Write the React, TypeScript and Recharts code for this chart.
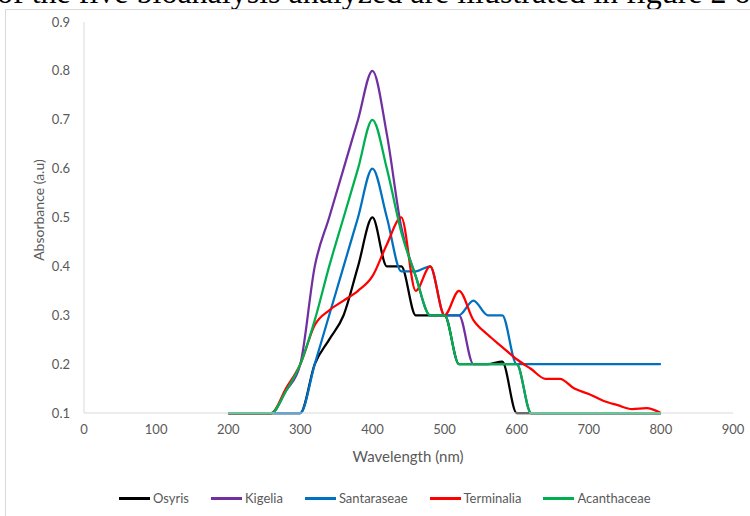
import React from 'react'
import { LineChart, Line, XAxis, YAxis } from 'recharts'

const WAVELENGTHS = [
  200, 220, 240, 260, 280, 300, 320, 340, 360, 380, 400, 420, 440, 460, 480, 500,
  520, 540, 560, 580, 600, 620, 640, 660, 680, 700, 720, 740, 760, 780, 800,
]

const OSYRIS = [
  0.1, 0.1, 0.1, 0.1, 0.1, 0.1, 0.2, 0.25, 0.3, 0.4, 0.5, 0.4, 0.4, 0.3, 0.3, 0.3,
  0.2, 0.2, 0.2, 0.205, 0.1, 0.1, 0.1, 0.1, 0.1, 0.1, 0.1, 0.1, 0.1, 0.1, 0.1,
]
const KIGELIA = [
  0.1, 0.1, 0.1, 0.1, 0.145, 0.2, 0.4, 0.5, 0.6, 0.7, 0.8, 0.67, 0.48, 0.38, 0.3, 0.3,
  0.3, 0.2, 0.2, 0.2, 0.2, 0.1, 0.1, 0.1, 0.1, 0.1, 0.1, 0.1, 0.1, 0.1, 0.1,
]
const SANTARASEAE = [
  0.1, 0.1, 0.1, 0.1, 0.1, 0.1, 0.2, 0.3, 0.4, 0.5, 0.6, 0.5, 0.39, 0.39, 0.4, 0.3,
  0.3, 0.33, 0.3, 0.3, 0.2, 0.2, 0.2, 0.2, 0.2, 0.2, 0.2, 0.2, 0.2, 0.2, 0.2,
]
const TERMINALIA = [
  0.1, 0.1, 0.1, 0.1, 0.15, 0.2, 0.28, 0.31, 0.33, 0.35, 0.38, 0.445, 0.5, 0.35, 0.4, 0.3,
  0.35, 0.29, 0.26, 0.235, 0.21, 0.19, 0.17, 0.17, 0.15, 0.139, 0.125, 0.116, 0.108, 0.11, 0.1,
]
const ACANTHACEAE = [
  0.1, 0.1, 0.1, 0.1, 0.145, 0.2, 0.29, 0.4, 0.5, 0.6, 0.7, 0.6, 0.47, 0.38, 0.3, 0.3,
  0.2, 0.2, 0.2, 0.2, 0.2, 0.1, 0.1, 0.1, 0.1, 0.1, 0.1, 0.1, 0.1, 0.1, 0.1,
]

const X_TICKS = [0, 100, 200, 300, 400, 500, 600, 700, 800, 900]
const Y_TICKS = [0.1, 0.2, 0.3, 0.4, 0.5, 0.6, 0.7, 0.8, 0.9]

const SERIES = [
  { name: 'Osyris', values: OSYRIS, color: '#000000' },
  { name: 'Kigelia', values: KIGELIA, color: '#7030a0' },
  { name: 'Santaraseae', values: SANTARASEAE, color: '#0070c0' },
  { name: 'Terminalia', values: TERMINALIA, color: '#ff0000' },
  { name: 'Acanthaceae', values: ACANTHACEAE, color: '#00b050' },
]

const data = WAVELENGTHS.map((w, i) => {
  const row: Record<string, number> = { w }
  SERIES.forEach(s => { row[s.name] = s.values[i] })
  return row
})

const FONT = 'Lato, "Open Sans", sans-serif'
const TEXT = '#595959'
const AXIS = '#d9d9d9'

export default function App() {
  return (
    <div style={{ position: 'absolute', left: 0, top: 0, width: 750, height: 516, overflow: 'hidden', background: '#fff' }}>
      {/* the page text above the figure is cut by the screenshot */}
      <div style={{
        position: 'absolute', left: -3, top: -24, whiteSpace: 'nowrap',
        fontFamily: '"Liberation Serif", "Times New Roman", serif', fontSize: 32, lineHeight: '32px', color: '#000',
      }}>
        of the five bioanalysis analyzed are illustrated in figure 2 o
      </div>
      <div style={{ position: 'absolute', left: 5, top: 9, width: 800, height: 600, border: `1px solid ${AXIS}`, background: '#fff' }} />

      <div style={{ position: 'absolute', left: 0, top: 0 }}>
        <LineChart width={750} height={516} data={data} margin={{ top: 22, right: 17, left: 0, bottom: 0 }}>
          <XAxis
            dataKey="w"
            type="number"
            domain={[0, 900]}
            ticks={X_TICKS}
            height={103}
            axisLine={{ stroke: AXIS }}
            tickLine={false}
            tickSize={0}
            tickMargin={12}
            tick={{ fill: TEXT, fontSize: 13, fontFamily: FONT }}
          />
          <YAxis
            type="number"
            domain={[0.1, 0.9]}
            ticks={Y_TICKS}
            width={84}
            axisLine={{ stroke: AXIS }}
            tickLine={false}
            tickSize={0}
            tickMargin={14}
            tickFormatter={(v: number) => v.toFixed(1)}
            tick={{ fill: TEXT, fontSize: 13, fontFamily: FONT }}
          />
          {SERIES.map(s => (
            <Line
              key={s.name}
              type="monotone"
              dataKey={s.name}
              stroke={s.color}
              strokeWidth={2.25}
              dot={false}
              isAnimationActive={false}
            />
          ))}
        </LineChart>
      </div>

      <div style={{
        position: 'absolute', left: 408, top: 456, transform: 'translate(-50%, -50%)',
        fontFamily: FONT, fontSize: 15, color: TEXT, whiteSpace: 'nowrap',
      }}>
        Wavelength (nm)
      </div>
      <div style={{
        position: 'absolute', left: 38, top: 210, transform: 'translate(-50%, -50%) rotate(-90deg)',
        fontFamily: FONT, fontSize: 14, color: TEXT, whiteSpace: 'nowrap',
      }}>
        Absorbance (a.u)
      </div>

      <div style={{
        position: 'absolute', left: 119, top: 498, transform: 'translateY(-50%)', display: 'flex', alignItems: 'center',
        fontFamily: FONT, fontSize: 13, color: TEXT, whiteSpace: 'nowrap',
      }}>
        {SERIES.map(s => (
          <div key={s.name} style={{ display: 'flex', alignItems: 'center', marginRight: 22 }}>
            <div style={{ width: 31, height: 3, background: s.color, marginRight: 3 }} />
            <span>{s.name}</span>
          </div>
        ))}
      </div>
    </div>
  )
}
